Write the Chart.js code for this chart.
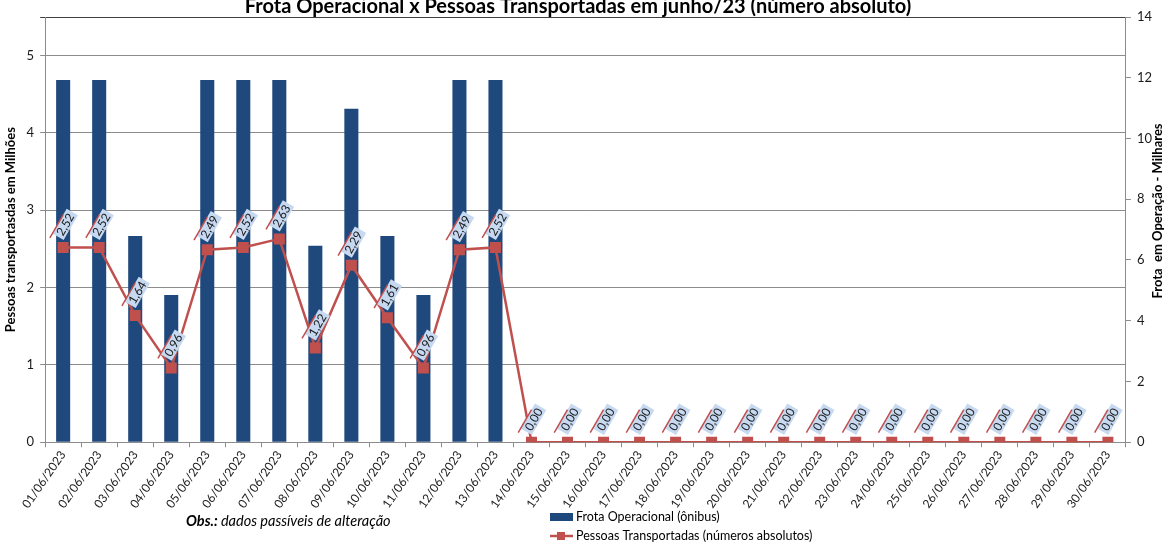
<!DOCTYPE html>
<html>
<head>
<meta charset="utf-8">
<script src="https://cdn.jsdelivr.net/npm/chart.js@4.4.1/dist/chart.umd.min.js"></script>
<style>
  html, body { margin: 0; padding: 0; background: #fff; }
</style>
</head>
<body>
<canvas id="chart" width="1164" height="542"></canvas>
<script>
// datas do mês
const dias = [
  '01/06/2023', '02/06/2023', '03/06/2023', '04/06/2023', '05/06/2023', '06/06/2023',
  '07/06/2023', '08/06/2023', '09/06/2023', '10/06/2023', '11/06/2023', '12/06/2023',
  '13/06/2023', '14/06/2023', '15/06/2023', '16/06/2023', '17/06/2023', '18/06/2023',
  '19/06/2023', '20/06/2023', '21/06/2023', '22/06/2023', '23/06/2023', '24/06/2023',
  '25/06/2023', '26/06/2023', '27/06/2023', '28/06/2023', '29/06/2023', '30/06/2023'
];

// frota em operação (milhares) - eixo da direita
const frota = [
  11.93, 11.93, 6.79, 4.85, 11.93, 11.93, 11.93, 6.47, 10.98, 6.79, 4.85, 11.93, 11.93,
  0, 0, 0, 0, 0, 0, 0, 0, 0, 0, 0, 0, 0, 0, 0, 0, 0
];

// pessoas transportadas (milhões) - eixo da esquerda
const pessoas = [
  2.52, 2.52, 1.64, 0.96, 2.49, 2.52, 2.63, 1.22, 2.29, 1.61, 0.96, 2.49, 2.52,
  0, 0, 0, 0, 0, 0, 0, 0, 0, 0, 0, 0, 0, 0, 0, 0, 0
];

const ticksEsq = [0, 1, 2, 3, 4, 5];
const ticksDir = [0, 2, 4, 6, 8, 10, 12, 14];

const titulo = 'Frota Operacional x Pessoas Transportadas em junho/23 (número absoluto)';
const tituloEsq = 'Pessoas transportasdas em Milhões';
const tituloDir = 'Frota  em Operação - Milhares';
const nomeFrota = 'Frota Operacional (ônibus)';
const nomePessoas = 'Pessoas Transportadas (números absolutos)';

const AZUL = '#1f497d';
const VERMELHO = '#c0504d';
const CINZA = '#8c8c8c';
const FONTE = 'Lato, "DejaVu Sans", sans-serif';

// rótulos inclinados com fundo azul claro (como no excel)
const rotulos = {
  id: 'rotulos',
  afterDatasetsDraw(chart) {
    const c = chart.ctx;
    const meta = chart.getDatasetMeta(1);
    c.save();
    c.font = '12px ' + FONTE;
    meta.data.forEach((pt, i) => {
      const txt = pessoas[i].toFixed(2).replace('.', ',');
      const w = c.measureText(txt).width + 5;
      const h = 13;
      c.save();
      c.translate(pt.x + 2, pt.y - 23);
      c.rotate(-Math.PI / 3);
      c.fillStyle = '#c6d9f1';
      c.fillRect(-w / 2, -h / 2, w, h);
      c.strokeStyle = VERMELHO;
      c.lineWidth = 1.5;
      c.beginPath();
      c.moveTo(-w / 2 - 5, -h / 2);
      c.lineTo(w / 2 - 7, -h / 2);
      c.stroke();
      c.fillStyle = '#1a1a1a';
      c.textAlign = 'center';
      c.textBaseline = 'middle';
      c.fillText(txt, 0, 0.5);
      c.restore();
    });
    c.restore();
  }
};

// título, título da direita, observação e legenda
const extras = {
  id: 'extras',
  afterDraw(chart) {
    const c = chart.ctx;
    c.save();
    c.fillStyle = '#000';
    c.textAlign = 'center';
    c.textBaseline = 'alphabetic';
    c.font = 'bold 20px ' + FONTE;
    c.fillText(titulo, 578, 13);

    c.save();
    c.translate(1158, 211);
    c.rotate(-Math.PI / 2);
    c.textBaseline = 'middle';
    c.font = 'bold 13px ' + FONTE;
    c.fillText(tituloDir, 0, 0);
    c.restore();

    c.textBaseline = 'middle';
    c.textAlign = 'left';
    c.font = 'italic bold 14.5px ' + FONTE;
    c.fillText('Obs.:', 186, 521);
    const wObs = c.measureText('Obs.: ').width;
    c.font = 'italic 14.5px ' + FONTE;
    c.fillText('dados passíveis de alteração', 186 + wObs, 521);

    // legenda
    c.font = '12.5px ' + FONTE;
    c.fillStyle = AZUL;
    c.fillRect(550, 513, 23, 8);
    c.fillStyle = '#000';
    c.fillText(nomeFrota, 576, 517);

    c.strokeStyle = VERMELHO;
    c.lineWidth = 2.5;
    c.beginPath();
    c.moveTo(550, 536);
    c.lineTo(573, 536);
    c.stroke();
    c.fillStyle = VERMELHO;
    c.fillRect(557, 532, 8, 8);
    c.fillStyle = '#000';
    c.fillText(nomePessoas, 576, 536);
    c.restore();
  }
};

const ctx = document.getElementById('chart').getContext('2d');
const chart = new Chart(ctx, {
  type: 'bar',
  data: {
    labels: dias,
    datasets: [
      {
        label: nomeFrota,
        data: frota,
        yAxisID: 'y1',
        backgroundColor: AZUL,
        barPercentage: 0.39,
        categoryPercentage: 1,
        order: 2
      },
      {
        type: 'line',
        label: nomePessoas,
        data: pessoas,
        yAxisID: 'y',
        borderColor: VERMELHO,
        backgroundColor: VERMELHO,
        borderWidth: 2.5,
        pointStyle: 'rect',
        pointRadius: 6,
        tension: 0,
        order: 1
      }
    ]
  },
  options: {
    responsive: false,
    animation: false,
    devicePixelRatio: 1,
    layout: { padding: { top: 17, left: 3, right: 6, bottom: 30 } },
    plugins: {
      legend: { display: false },
      tooltip: { enabled: false }
    },
    scales: {
      x: {
        offset: true,
        grid: { offset: true, drawOnChartArea: false, tickLength: 5, color: CINZA },
        border: { color: CINZA },
        ticks: {
          autoSkip: false,
          minRotation: 55,
          maxRotation: 55,
          padding: 1,
          color: '#1a1a1a',
          font: { family: FONTE, size: 12 }
        }
      },
      y: {
        position: 'left',
        min: 0,
        max: 5.5,
        afterBuildTicks: (axis) => {
          axis.ticks = ticksEsq.map(v => ({ value: v })).concat([{ value: 5.5 }]);
        },
        grid: {
          tickLength: 5,
          color: (c) => c.tick && c.tick.value === 5.5 ? '#404040' : CINZA
        },
        border: { color: CINZA },
        ticks: {
          callback: (v) => v === 5.5 ? '' : v,
          color: '#1a1a1a',
          padding: 6,
          font: { family: FONTE, size: 13 }
        },
        title: {
          display: true,
          text: tituloEsq,
          color: '#000',
          padding: { top: 0, bottom: 2 },
          font: { family: FONTE, size: 13, weight: 'bold' }
        }
      },
      y1: {
        position: 'right',
        min: 0,
        max: 14,
        afterBuildTicks: (axis) => {
          axis.ticks = ticksDir.map(v => ({ value: v }));
        },
        grid: { drawOnChartArea: false, tickLength: 5, color: CINZA },
        border: { color: CINZA },
        ticks: {
          color: '#1a1a1a',
          padding: 6,
          font: { family: FONTE, size: 13 }
        }
      }
    }
  },
  plugins: [rotulos, extras]
});
</script>
</body>
</html>
